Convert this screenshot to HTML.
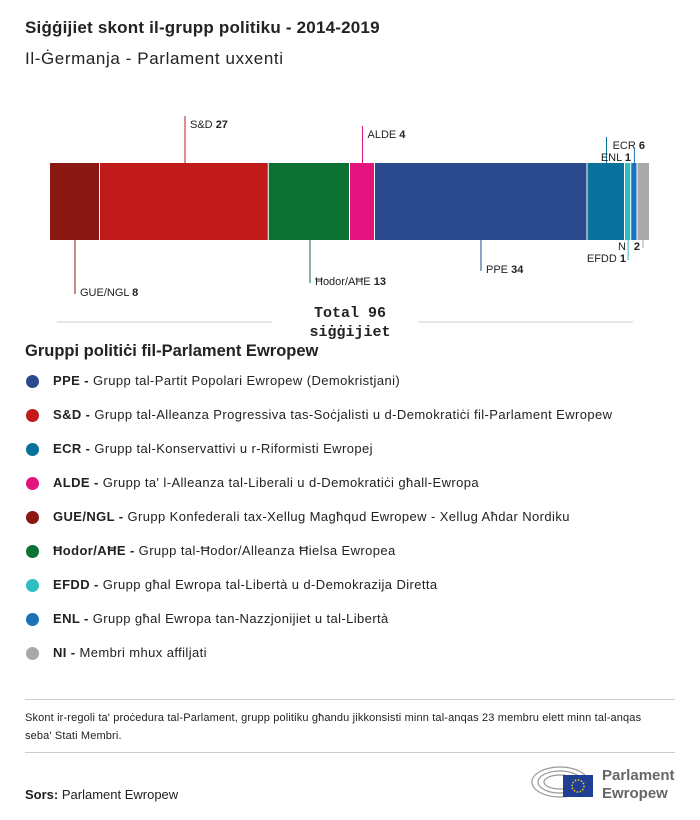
<!DOCTYPE html>
<html><head><meta charset="utf-8"><style>
body{margin:0;width:700px;height:820px;background:#fff;font-family:"Liberation Sans",sans-serif;color:#222;position:relative;overflow:hidden}
.a{position:absolute;white-space:nowrap}
</style></head><body>
<div class="a" style="left:25px;top:18px;font-size:17px;font-weight:bold;letter-spacing:0.2px">Siġġijiet skont il-grupp politiku - 2014-2019</div>
<div class="a" style="left:25px;top:49px;font-size:17px;letter-spacing:0.6px">Il-Ġermanja - Parlament uxxenti</div>
<svg class="a" style="left:0;top:0" width="700" height="345" id="chart"></svg>
<div class="a" style="left:25px;top:342px;font-size:16.5px;font-weight:bold">Gruppi politiċi fil-Parlament Ewropew</div>
<div id="legend"></div>
<div class="a" style="left:25px;top:699px;width:650px;border-top:1px solid #ccc"></div>
<div class="a" style="left:25px;top:709px;font-size:11px;letter-spacing:0.15px;line-height:18px;white-space:normal;width:640px">Skont ir-regoli ta' proċedura tal-Parlament, grupp politiku għandu jikkonsisti minn tal-anqas 23 membru elett minn tal-anqas seba' Stati Membri.</div>
<div class="a" style="left:25px;top:752px;width:650px;border-top:1px solid #ccc"></div>
<div class="a" style="left:25px;top:787px;font-size:13px"><b>Sors:</b> Parlament Ewropew</div>
<svg class="a" style="left:528px;top:758px" width="150" height="45">
<g fill="none" stroke="#999" stroke-width="1.2"><ellipse cx="32" cy="24" rx="28" ry="15"/><ellipse cx="32" cy="24" rx="22" ry="11"/><ellipse cx="32" cy="24" rx="16" ry="7"/></g>
<rect x="35" y="17" width="30" height="22" fill="#1f3f94"/>
<circle cx="50" cy="28" r="6" fill="none" stroke="#ffd000" stroke-width="1.5" stroke-dasharray="1.5 1.6"/>
<text x="74" y="22" font-size="15" font-weight="bold" fill="#666">Parlament</text>
<text x="74" y="40" font-size="15" font-weight="bold" fill="#666">Ewropew</text>
</svg>
<script>
const groups=["GUE/NGL","S&D","Ħodor/AĦE","ALDE","PPE","ECR","EFDD","ENL","NI"];
const seats=[8,27,13,4,34,6,1,1,2];
const colors=["#8b1712","#c11a1b","#0b7234","#e3137f","#2b4a8e","#08729c","#2ebdc1","#1b72b9","#a9a9a9"];
const labelY=[292,124,281,134,269,145,258,157,246];
const labelSide=[-1,1,-1,1,-1,1,-1,1,-1];
const labelTxt=["GUE/NGL","S&D","Ħodor/AĦE","ALDE","PPE","ECR","EFDD","ENL","N"];
const labelAlign=["s","s","s","s","s","e","e","e","e"];
const total=seats.reduce((a,b)=>a+b,0);
const x0=50,x1=650,y0=163,y1=240;
const sx=v=>x0+v/total*(x1-x0);
const svg=document.getElementById('chart');
const NS="http://www.w3.org/2000/svg";
function mk(t,a){const e=document.createElementNS(NS,t);for(const k in a)e.setAttribute(k,a[k]);svg.appendChild(e);return e;}
let cum=0;
seats.forEach((s,i)=>{
 const a=sx(cum),b=sx(cum+s);cum+=s;
 const r=mk('rect',{x:a,y:y0,width:Math.max(b-a-1,1),height:y1-y0,fill:colors[i]});
 
 
 const mid=(a+b)/2;
 let lx=mid;
 if(i===5) lx=a+19; if(i===8) lx=b-7; if(i===1) lx=185; if(i===4) lx=481; if(i===2) lx=310; if(i===0) lx=75;
 const top=labelSide[i]>0;
 const ly=labelY[i];
 mk('line',{x1:lx,x2:lx,y1:top?ly-8:y1,y2:top?y0:ly+2,stroke:colors[i],'stroke-width':1});
 const anchor=labelAlign[i]==="s"?"start":"end";
 let tx=anchor==="start"?lx+5:lx-3;
 if(i===5) tx=645; if(i===7) tx=631; if(i===6) tx=626; if(i===8) tx=640;
 const t=mk('text',{x:tx,y:ly+4,'font-size':11,'text-anchor':anchor,fill:'#222'});
 
 
 if(i===8){const n=mk('text',{x:626,y:ly+4,'font-size':11,'text-anchor':'end',fill:'#222'});n.textContent='N';
  t.innerHTML='<tspan font-weight="bold">'+s+'</tspan>';}
 else t.innerHTML=labelTxt[i].replace('&','&amp;')+' <tspan font-weight="bold">'+s+'</tspan>';
});
mk('line',{x1:57,x2:272,y1:322,y2:322,stroke:'#ccc'});
mk('line',{x1:418,x2:633,y1:322,y2:322,stroke:'#ccc'});
const tt=mk('text',{x:350,y:317,'font-size':15,'font-weight':'bold','font-family':'Liberation Mono, monospace','text-anchor':'middle',fill:'#222'});
tt.textContent='Total '+total;


const tt2=mk('text',{x:350,y:336,'font-size':15,'font-weight':'bold','font-family':'Liberation Mono, monospace','text-anchor':'middle',fill:'#222'});
tt2.textContent='siġġijiet';
const legAbbr=["PPE","S&D","ECR","ALDE","GUE/NGL","Ħodor/AĦE","EFDD","ENL","NI"];
const legDesc=["Grupp tal-Partit Popolari Ewropew (Demokristjani)","Grupp tal-Alleanza Progressiva tas-Soċjalisti u d-Demokratiċi fil-Parlament Ewropew","Grupp tal-Konservattivi u r-Riformisti Ewropej","Grupp ta' l-Alleanza tal-Liberali u d-Demokratiċi għall-Ewropa","Grupp Konfederali tax-Xellug Magħqud Ewropew - Xellug Aħdar Nordiku","Grupp tal-Ħodor/Alleanza Ħielsa Ewropea","Grupp għal Ewropa tal-Libertà u d-Demokrazija Diretta","Grupp għal Ewropa tan-Nazzjonijiet u tal-Libertà","Membri mhux affiljati"];
const legCol=["#2b4a8e","#c11a1b","#08729c","#e3137f","#8b1712","#0b7234","#2ebdc1","#1b72b9","#a9a9a9"];
const L=document.getElementById('legend');
legAbbr.forEach((g,i)=>{
 const y=381+i*34.0;
 const d=document.createElement('div');
 d.className='a';d.style.left='26px';d.style.top=(y-8)+'px';d.style.fontSize='13px';d.style.letterSpacing='0.4px';
 
 
 d.innerHTML='<span style="position:absolute;left:0;top:2px;width:13px;height:13px;border-radius:50%;background:'+legCol[i]+'"></span><span style="position:absolute;left:27px;top:0"><b>'+g.replace('&','&amp;')+' -</b> '+legDesc[i]+'</span>';
 L.appendChild(d);
});
</script>
</body></html>
